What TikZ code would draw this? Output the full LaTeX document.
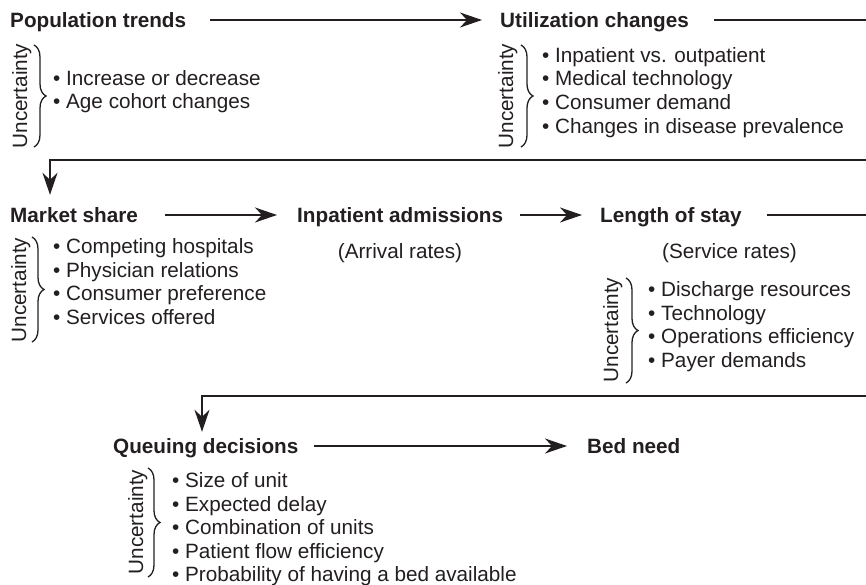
\documentclass[tikz,border=0pt]{standalone}
\usepackage{fontspec}
\setmainfont{Liberation Sans}
\usetikzlibrary{arrows.meta,decorations.pathreplacing}
\definecolor{ink}{HTML}{231F20}
\begin{document}
\begin{tikzpicture}[x=1pt,y=-1pt,
  every node/.style={inner sep=0pt, text=ink, font=\fontsize{20.7pt}{23.6pt}\selectfont},
  head/.style={anchor=west, font=\fontsize{20.7pt}{23.6pt}\selectfont\bfseries, text height=14.8pt, text depth=0pt},
  list/.style={anchor=north west, align=left},
  unc/.style={rotate=90, anchor=base},
  arr/.style={draw=ink, line width=1.6pt, -{Stealth[length=22pt,width=15pt,inset=7pt]}},
  brc/.style={draw=ink, line width=1.3pt, decorate, decoration={brace, amplitude=12pt}}]
\fill[white] (0,0) rectangle (866,585);
\useasboundingbox (0,0) rectangle (866,585);

% headings
\node[head] (pop)  at (10,20)  {Population trends};
\node[head] (util) at (500,20) {Utilization changes};
\node[head] (mkt)  at (10,215) {Market share};
\node[head] (inp)  at (297,215) {Inpatient admissions};
\node[head] (los)  at (600,215) {Length of stay};
\node[head] (que)  at (113,446) {Queuing decisions};
\node[head] (bed)  at (587,446) {Bed need};

\node[anchor=base] (arrival) at (400,258) {(Arrival rates)};
\node[anchor=base west] (service) at (662,258) {(Service rates)};

% uncertainty labels
\node[unc] (u1) at (27,96)   {Uncertainty};
\node[unc] (u2) at (513,96)  {Uncertainty};
\node[unc] (u3) at (26,290)  {Uncertainty};
\node[unc] (u4) at (618,330) {Uncertainty};
\node[unc] (u5) at (143,522) {Uncertainty};

% braces
\draw[brc] (34,45)   -- (34,147);
\draw[brc] (521,45)  -- (521,147);
\draw[brc] (32,237)  -- (32,342);
\draw[brc] (626,278) -- (626,383);
\draw[brc] (148,468) -- (148,577);

% lists
\node[list] (l1) at (53,70.2) {• Increase or decrease\\• Age cohort changes};
\node[list] (l2) at (542,47.2) {• Inpatient vs. outpatient\\• Medical technology\\• Consumer demand\\• Changes in disease prevalence};
\node[list] (l3) at (53,238.2) {• Competing hospitals\\• Physician relations\\• Consumer preference\\• Services offered};
\node[list] (l4) at (648,281.2) {• Discharge resources\\• Technology\\• Operations efficiency\\• Payer demands};
\node[list] (l5) at (172,472.2) {• Size of unit\\• Expected delay\\• Combination of units\\• Patient flow efficiency\\• Probability of having a bed available};

% connectors
\coordinate (c1) at (50,160);
\coordinate (c2) at (202,396);
\draw[arr, shorten <=24pt, shorten >=18pt] (pop) -- (util);
\draw[arr, shorten <=27pt, shorten >=20pt] (mkt) -- (inp);
\draw[arr, shorten <=17pt, shorten >=18pt] (inp) -- (los);
\draw[arr, shorten <=15pt, shorten >=20pt] (que) -- (bed);
\draw[arr, shorten <=24.5pt, shorten >=12.6pt] (util.east) -- (890,20) |- (c1) -- (c1 |- mkt.north);
\draw[arr, shorten <=25.5pt, shorten >=6.6pt] (los.east) -- (890,215) |- (c2) -- (c2 |- que.north);
\end{tikzpicture}
\end{document}
